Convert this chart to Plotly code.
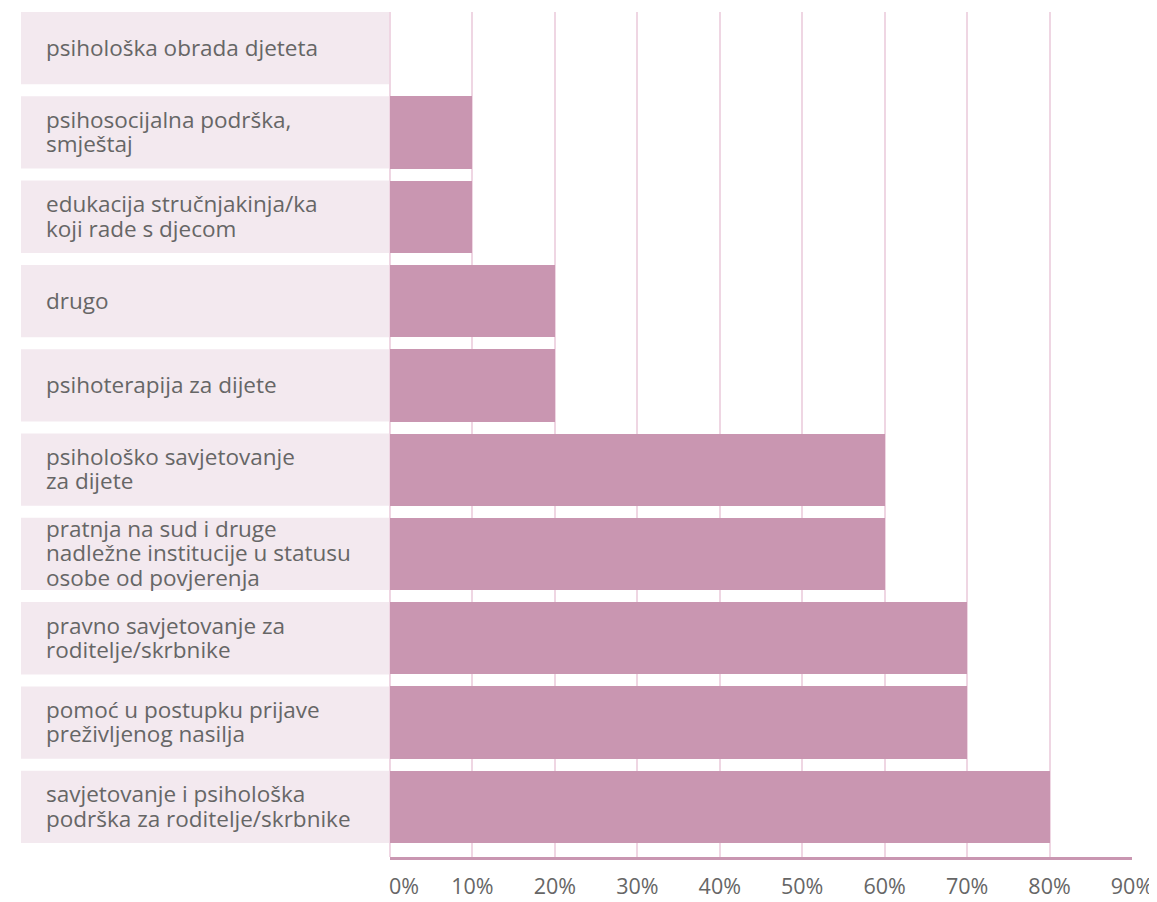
import plotly.graph_objects as go

categories = [
    "psihološka obrada djeteta",
    "psihosocijalna podrška,<br>smještaj",
    "edukacija stručnjakinja/ka<br>koji rade s djecom",
    "drugo",
    "psihoterapija za dijete",
    "psihološko savjetovanje<br>za dijete",
    "pratnja na sud i druge<br>nadležne institucije u statusu<br>osobe od povjerenja",
    "pravno savjetovanje za<br>roditelje/skrbnike",
    "pomoć u postupku prijave<br>preživljenog nasilja",
    "savjetovanje i psihološka<br>podrška za roditelje/skrbnike",
]
values = [0, 10, 10, 20, 20, 60, 60, 70, 70, 80]
tick_vals = [0, 10, 20, 30, 40, 50, 60, 70, 80, 90]
tick_text = [f"{v}%" for v in tick_vals]
tick_text[0] = "\u00a0\u00a0\u00a0\u00a0\u00a00%"

BAR = "#c996b1"
BOX = "#f3e9ef"
GRID = "#efd6e3"
TXT = "#666666"
FONT = "Open Sans"

idx = list(range(len(categories)))
bar_w = 0.8577

fig = go.Figure()
fig.add_trace(go.Bar(
    x=values, y=idx, orientation="h",
    marker=dict(color=BAR, line=dict(width=0)),
    width=bar_w, hoverinfo="skip",
))

# page body has an 8px margin; compensate
OFF = 8
W, H = 1157 - OFF, 902 - OFF
L, R, T, B = 390 - OFF, 25, 12 - OFF, 45
pw = W - L - R
box_x0 = (21 - 390) / pw
text_x = (44 - 390) / pw
line_pitch = 24.5

for i, c in enumerate(categories):
    fig.add_shape(type="rect", xref="paper", yref="y",
                  x0=box_x0, x1=0, y0=i - bar_w / 2, y1=i + bar_w / 2,
                  fillcolor=BOX, line=dict(width=0), layer="below")
    lines = c.split("<br>")
    n = len(lines)
    for k, ln in enumerate(lines):
        off = (k - (n - 1) / 2) * line_pitch
        fig.add_annotation(xref="paper", yref="y", x=text_x, y=i, text=ln,
                           xanchor="left", yanchor="middle", align="left",
                           yshift=-off + 1, showarrow=False,
                           font=dict(family=FONT, size=22.5, color=TXT))

fig.update_layout(
    width=W, height=H,
    margin=dict(l=L, r=R, t=T, b=B, autoexpand=False),
    paper_bgcolor="white", plot_bgcolor="white",
    showlegend=False, bargap=0,
    xaxis=dict(range=[0, 90], tickvals=tick_vals, ticktext=tick_text,
               showgrid=True, gridcolor=GRID, gridwidth=1.5,
               zeroline=True, zerolinecolor=GRID, zerolinewidth=1.5,
               showline=True, linecolor=BAR, linewidth=3,
               ticks="outside", ticklen=8, tickcolor="rgba(0,0,0,0)",
               tickfont=dict(family=FONT, size=21.5, color=TXT),
               automargin=False, fixedrange=True),
    yaxis=dict(range=[9 + bar_w / 2 + 14 / 84.3, -bar_w / 2],
               showticklabels=False, showgrid=False, zeroline=False,
               showline=False, automargin=False, fixedrange=True),
)

fig.write_html("out.html")
